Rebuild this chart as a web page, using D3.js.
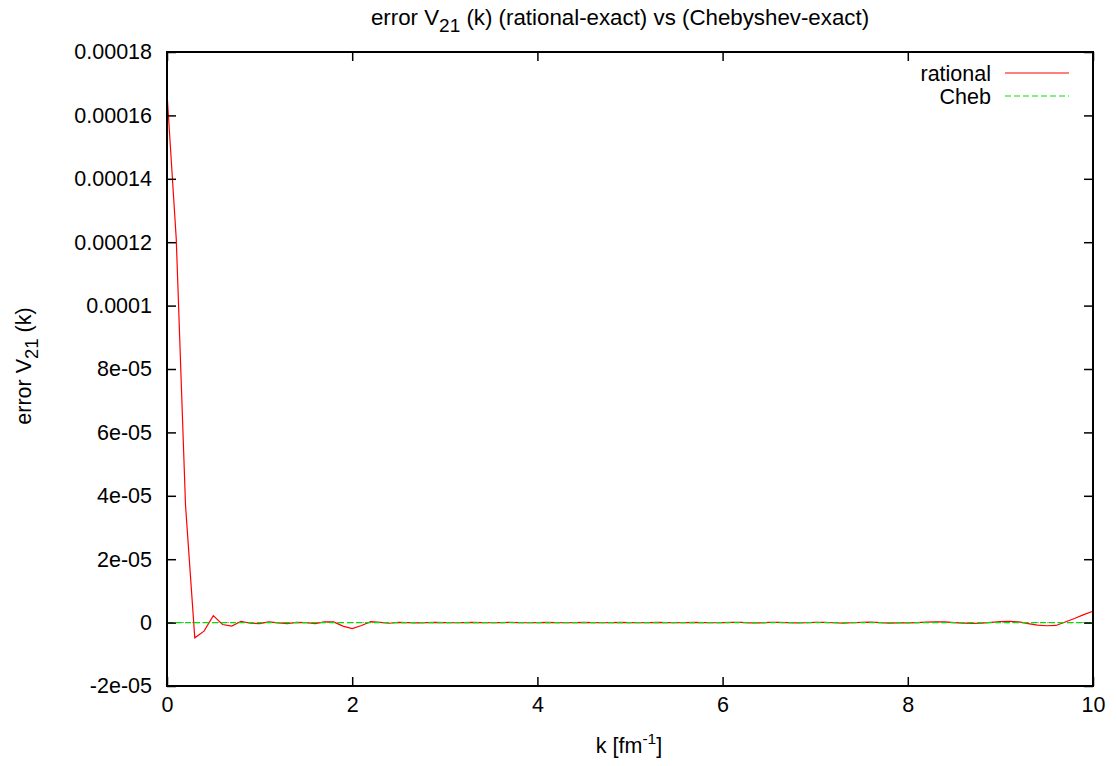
<!DOCTYPE html>
<html>
<head>
<meta charset="utf-8">
<script src="https://cdn.jsdelivr.net/npm/d3@7"></script>
<style>
html,body{margin:0;padding:0;background:#fff;}
svg text{font-family:"Liberation Sans",Arial,Helvetica,sans-serif;fill:#000;}
</style>
</head>
<body>
<svg id="chart" width="1117" height="766"></svg>
<script>
// k grid [fm^-1]
const kValues = [
  0.0,0.1,0.2,0.3,0.4,0.5,0.6,0.7,0.8,0.9,
  1.0,1.1,1.2,1.3,1.4,1.5,1.6,1.7,1.8,1.9,
  2.0,2.1,2.2,2.3,2.4,2.5,2.6,2.7,2.8,2.9,
  3.0,3.1,3.2,3.3,3.4,3.5,3.6,3.7,3.8,3.9,
  4.0,4.1,4.2,4.3,4.4,4.5,4.6,4.7,4.8,4.9,
  5.0,5.1,5.2,5.3,5.4,5.5,5.6,5.7,5.8,5.9,
  6.0,6.1,6.2,6.3,6.4,6.5,6.6,6.7,6.8,6.9,
  7.0,7.1,7.2,7.3,7.4,7.5,7.6,7.7,7.8,7.9,
  8.0,8.1,8.2,8.3,8.4,8.5,8.6,8.7,8.8,8.9,
  9.0,9.1,9.2,9.3,9.4,9.5,9.6,9.7,9.8,9.9,
  10.0
];
// rational - exact (units of 1e-6)
const rationalErr = [
  167,121,37,-4.8,-2.7,2.2,-0.6,-1.1,0.4,-0.2,
  -0.3,0.2,-0.1,-0.3,0.1,0.0,-0.3,0.2,0.2,-1.1,
  -1.9,-0.9,0.3,0.1,-0.2,0.1,0.0,-0.1,0.0,0.05,
  0.0,-0.05,0.0,0.05,0.0,-0.05,0.0,0.05,0.0,-0.05,
  0.0,0.05,0.0,-0.05,0.0,0.05,0.0,-0.05,0.0,0.05,
  0.0,-0.05,0.0,0.05,0.0,-0.05,0.0,0.05,0.0,-0.05,
  0.0,0.1,0.05,-0.1,-0.1,0.05,0.1,0.0,-0.1,-0.05,
  0.1,0.1,-0.05,-0.15,-0.05,0.1,0.15,0.0,-0.15,-0.1,
  -0.1,0.0,0.15,0.25,0.2,0.0,-0.15,-0.25,-0.15,0.1,
  0.35,0.4,0.2,-0.3,-0.8,-1.0,-0.9,0.2,1.3,2.5,
  3.6
];
// Chebyshev - exact (units of 1e-6)
const chebErr = [
  0,0,0,0,0,0,0,0,0,0, 0,0,0,0,0,0,0,0,0,0,
  0,0,0,0,0,0,0,0,0,0, 0,0,0,0,0,0,0,0,0,0,
  0,0,0,0,0,0,0,0,0,0, 0,0,0,0,0,0,0,0,0,0,
  0,0,0,0,0,0,0,0,0,0, 0,0,0,0,0,0,0,0,0,0,
  0,0,0,0,0,0,0,0,0,0, 0,0,0,0,0,0,0,0,0,0,
  0
];
const xTicks = [0,2,4,6,8,10];
const yTicks = [-2e-5,0,2e-5,4e-5,6e-5,8e-5,1e-4,1.2e-4,1.4e-4,1.6e-4,1.8e-4];
const yTickLabels = ["-2e-05","0","2e-05","4e-05","6e-05","8e-05","0.0001","0.00012","0.00014","0.00016","0.00018"];
const seriesNames = ["rational","Cheb"];

const svg = d3.select("#chart");
const L = 167, R = 1093, T = 52, B = 686;
const x = d3.scaleLinear().domain([0,10]).range([L,R]);
const y = d3.scaleLinear().domain([-2e-5,1.8e-4]).range([B,T]);
const FS = 21.5;

// zero axis (gray)
svg.append("line").attr("x1",L).attr("x2",R).attr("y1",y(0)).attr("y2",y(0))
  .attr("stroke","#a0a0a0").attr("stroke-width",1).attr("stroke-dasharray","2,3");

const line = d3.line().x(d=>x(d[0])).y(d=>y(d[1]*1e-6));
svg.append("path").datum(kValues.map((k,i)=>[k,rationalErr[i]]))
  .attr("d",line).attr("fill","none").attr("stroke","#ff0000").attr("stroke-width",1.2);
svg.append("path").datum(kValues.map((k,i)=>[k,chebErr[i]]))
  .attr("d",line).attr("fill","none").attr("stroke","#00e000").attr("stroke-width",1.2)
  .attr("stroke-dasharray","6,3");

// axes: ticks inward, mirrored
const tk = 9;
const gx = svg.append("g").attr("transform",`translate(0,${B})`)
  .call(d3.axisBottom(x).tickValues(xTicks).tickSize(-tk).tickPadding(11).tickFormat(d3.format("d")));
const gxt = svg.append("g").attr("transform",`translate(0,${T})`)
  .call(d3.axisTop(x).tickValues(xTicks).tickSize(-tk).tickFormat(""));
const gy = svg.append("g").attr("transform",`translate(${L},0)`)
  .call(d3.axisLeft(y).tickValues(yTicks).tickSize(-tk).tickPadding(15).tickFormat((d,i)=>yTickLabels[i]));
const gyr = svg.append("g").attr("transform",`translate(${R},0)`)
  .call(d3.axisRight(y).tickValues(yTicks).tickSize(-tk).tickFormat(""));
[gx,gxt,gy,gyr].forEach(g=>{
  g.select(".domain").remove();
  g.selectAll(".tick line").attr("stroke","#000").attr("stroke-width",1.5);
  g.selectAll(".tick text").attr("font-size",FS).attr("font-family","Liberation Sans, Arial, sans-serif").attr("fill","#000");
});
// border
svg.append("rect").attr("x",L).attr("y",T).attr("width",R-L).attr("height",B-T)
  .attr("fill","none").attr("stroke","#000").attr("stroke-width",2);

// title
const title = svg.append("text").attr("x",620).attr("y",25).attr("text-anchor","middle").attr("font-size",FS+0.8);
title.append("tspan").text("error V");
title.append("tspan").attr("dy",7).attr("font-size",FS-2.5).text("21");
title.append("tspan").attr("dy",-7).text(" (k) (rational-exact) vs (Chebyshev-exact)");

// x label
const xl = svg.append("text").attr("x",629).attr("y",753).attr("text-anchor","middle").attr("font-size",FS);
xl.append("tspan").text("k [fm");
xl.append("tspan").attr("dy",-9).attr("font-size",FS-6).text("-1");
xl.append("tspan").attr("dy",9).text("]");

// y label
const yl = svg.append("text").attr("transform","translate(31,366) rotate(-90)").attr("text-anchor","middle").attr("font-size",FS);
yl.append("tspan").text("error V");
yl.append("tspan").attr("dy",7).attr("font-size",FS-3).text("21");
yl.append("tspan").attr("dy",-7).text(" (k)");

// legend
const legY = [73,96];
const legStyles = [{c:"#ff0000",d:null},{c:"#00e000",d:"6,3"}];
seriesNames.forEach((n,i)=>{
  svg.append("text").attr("x",991).attr("y",legY[i]+8).attr("text-anchor","end").attr("font-size",FS).text(n);
  const l = svg.append("line").attr("x1",1005).attr("x2",1069).attr("y1",legY[i]).attr("y2",legY[i])
    .attr("stroke",legStyles[i].c).attr("stroke-width",1.2);
  if (legStyles[i].d) l.attr("stroke-dasharray",legStyles[i].d);
});
</script>
</body>
</html>
